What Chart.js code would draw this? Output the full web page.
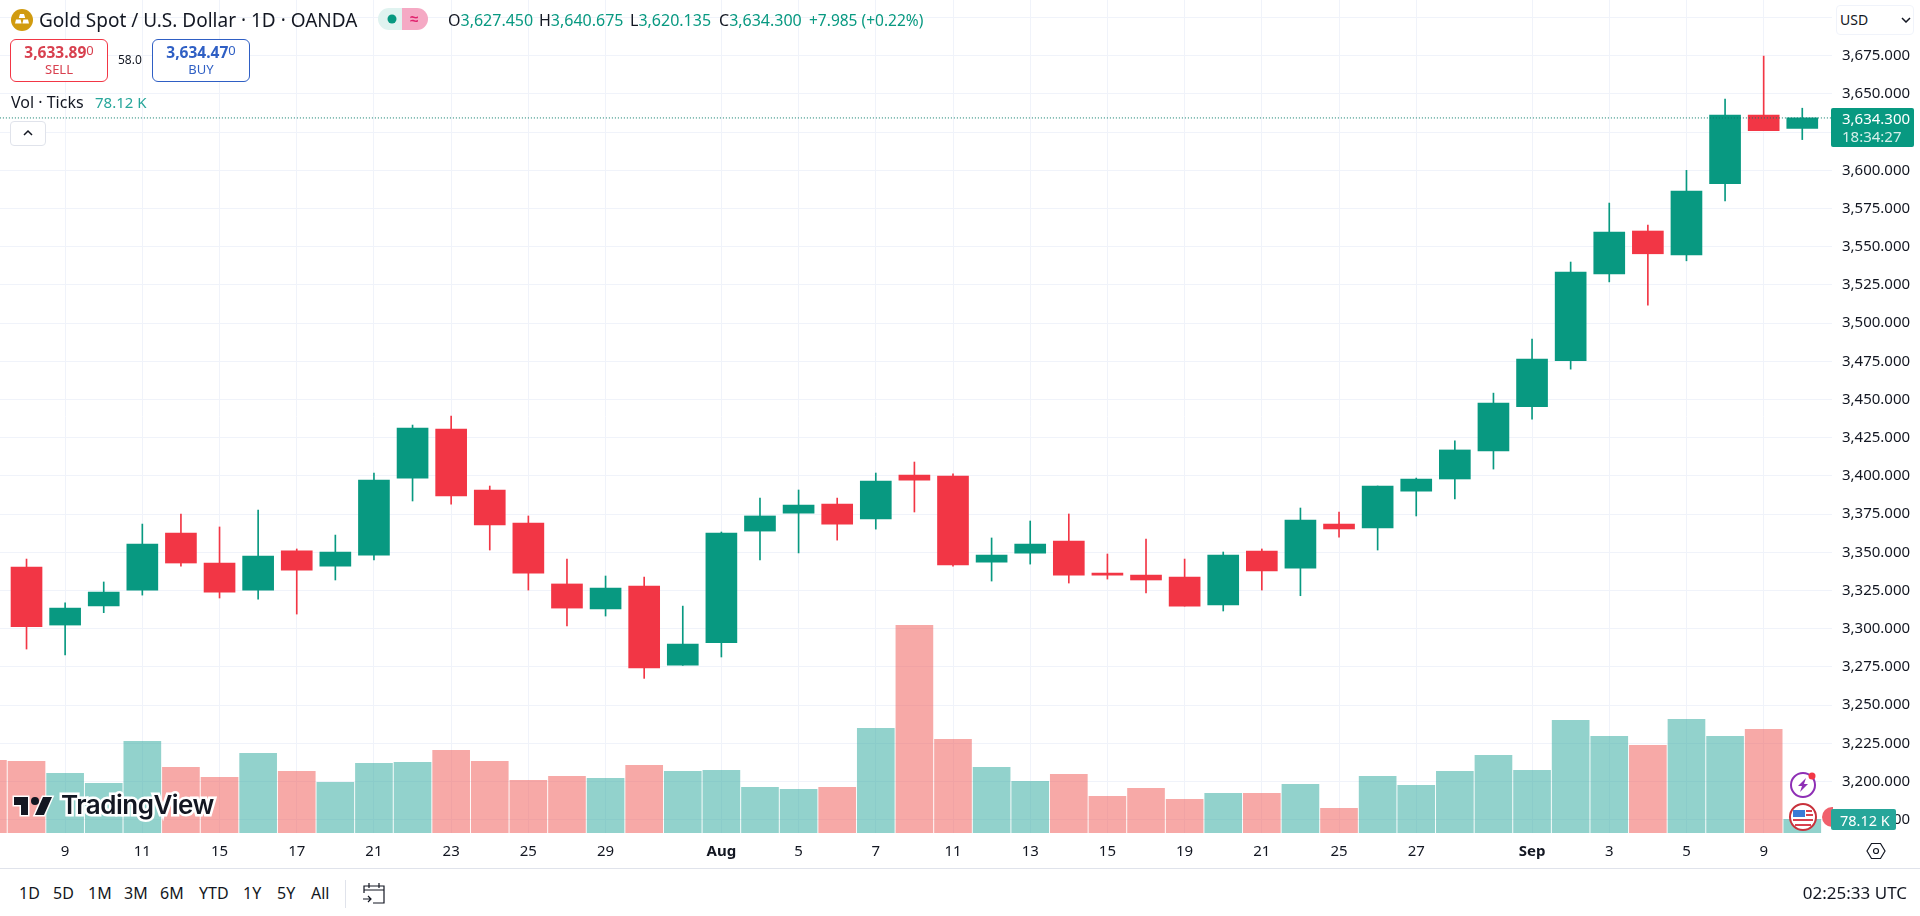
<!DOCTYPE html>
<html>
<head>
<meta charset="utf-8">
<title>Gold Spot / U.S. Dollar</title>
<script src="https://cdn.jsdelivr.net/npm/chart.js@4"></script>
<style>
  html, body { margin: 0; padding: 0; background: #fff; }
  #page { position: relative; width: 1920px; height: 916px; overflow: hidden; font-family: "Noto Sans", sans-serif; color: #131722; }
  #page canvas { position: absolute; left: 0; top: 0; }
  .t { position: absolute; white-space: nowrap; line-height: 20px; height: 20px; }
  .g { color: #089981; }
  .box { position: absolute; box-sizing: border-box; background: #fff; }
  .sep { position: absolute; background: #e0e3eb; }
  .logo { font-family: Inter, sans-serif; font-weight: 600; font-size: 26px; letter-spacing: -0.5px; color: #131722; line-height: 30px; height: 30px;
          -webkit-text-stroke: 5px #fff; paint-order: stroke fill; }
  small { font-size: 13px; position: relative; top: -3px; font-weight: 400; }
</style>
</head>
<body>
<div id="page">
  <canvas id="gold-chart" width="1920" height="868"></canvas>

  <!-- header -->
  <svg style="position:absolute;left:11px;top:9px" width="22" height="22" viewBox="0 0 22 22">
    <circle cx="11" cy="11" r="11" fill="#d19b0f"/>
    <path d="M9 5h4l1.2 4H7.8zM5 10.5h4.6l1 4H4zM12.4 10.5H17l1 4h-6.6z" fill="#fff"/>
  </svg>
  <div class="t" style="left:39px;top:10px;font-size:19px">Gold Spot / U.S. Dollar · 1D · OANDA</div>
  <svg style="position:absolute;left:378px;top:8px" width="50" height="22" viewBox="0 0 50 22">
    <path d="M11 0h13v22H11a11 11 0 0 1 0-22z" fill="#e0f3f0"/>
    <path d="M24 0h15a11 11 0 0 1 0 22H24z" fill="#f5a9c4"/>
    <circle cx="14" cy="11" r="4.5" fill="#089981"/>
    <text x="36" y="16" font-size="15" font-weight="700" fill="#e0246e" text-anchor="middle">≈</text>
  </svg>
  <div class="t" style="left:448px;top:10px;font-size:16px">O<span class="g">3,627.450</span></div>
  <div class="t" style="left:539px;top:10px;font-size:16px">H<span class="g">3,640.675</span></div>
  <div class="t" style="left:630px;top:10px;font-size:16px">L<span class="g">3,620.135</span></div>
  <div class="t" style="left:719px;top:10px;font-size:16px">C<span class="g">3,634.300</span></div>
  <div class="t g" style="left:809px;top:10px;font-size:15.5px">+7.985 (+0.22%)</div>

  <div class="box" style="left:10px;top:39px;width:98px;height:43px;border:1px solid #f23645;border-radius:6px"></div>
  <div class="t" style="left:10px;width:98px;text-align:center;top:42px;font-size:15.5px;font-weight:700;color:#d8404f">3,633.89<small>0</small></div>
  <div class="t" style="left:10px;width:98px;text-align:center;top:59px;font-size:13px;color:#d8404f">SELL</div>
  <div class="t" style="left:118px;top:50px;font-size:12px">58.0</div>
  <div class="box" style="left:152px;top:39px;width:98px;height:43px;border:1px solid #2f5fc4;border-radius:6px"></div>
  <div class="t" style="left:152px;width:98px;text-align:center;top:42px;font-size:15.5px;font-weight:700;color:#2f5fc4">3,634.47<small>0</small></div>
  <div class="t" style="left:152px;width:98px;text-align:center;top:59px;font-size:13px;color:#2f5fc4">BUY</div>
  <div class="t" style="left:11px;top:92px;font-size:16px">Vol · Ticks</div>
  <div class="t" style="left:95px;top:92px;font-size:15px;color:#26a69a">78.12 K</div>
  <div class="box" style="left:10px;top:121px;width:36px;height:25px;border:1px solid #e0e3eb;border-radius:4px"></div>
  <svg style="position:absolute;left:22px;top:128px" width="12" height="10" viewBox="0 0 12 10"><path d="M2 7l4-4 4 4" fill="none" stroke="#131722" stroke-width="1.5"/></svg>

  <!-- price scale widgets -->
  <div class="box" style="left:1836px;top:5px;width:78px;height:30px;border:1px solid #f0f3fa;border-radius:4px"></div>
  <div class="t" style="left:1840px;top:10px;font-size:14px">USD</div>
  <svg style="position:absolute;left:1901px;top:17px" width="10" height="6" viewBox="0 0 10 6"><path d="M1 1l4 4 4-4" fill="none" stroke="#131722" stroke-width="1.5"/></svg>
  <div class="box" style="left:1831px;top:108px;width:83px;height:39px;background:#089981;border-radius:2px"></div>
  <div class="t" style="left:1842px;top:108px;font-size:15px;color:#fff">3,634.300</div>
  <div class="t" style="left:1842px;top:126px;font-size:15px;color:#d5efea">18:34:27</div>

  <!-- event icons -->
  <svg style="position:absolute;left:1788px;top:770px" width="30" height="30" viewBox="0 0 30 30">
    <circle cx="15" cy="15" r="12" fill="#fff" stroke="#8e2fb5" stroke-width="2"/>
    <path d="M18 8l-8 8h4l-2 6 8-8h-4z" fill="#8e2fb5"/>
    <circle cx="24" cy="6" r="3.5" fill="#f23645"/>
  </svg>
  <svg style="position:absolute;left:1788px;top:802px" width="30" height="30" viewBox="0 0 30 30">
    <circle cx="15" cy="15" r="13" fill="#fff" stroke="#c8323c" stroke-width="2"/>
    <path d="M5 17h20v2H5zM7 22h16v2H7z" fill="#d8404f"/>
    <path d="M5 8h12v7H5z" fill="#3a7bd5"/>
    <path d="M18 8h6v2h-6zM18 12h7v2h-7z" fill="#d8404f"/>
  </svg>
  <svg style="position:absolute;left:1821px;top:806px" width="12" height="22" viewBox="0 0 12 22"><circle cx="11" cy="11" r="10" fill="#f0606c"/></svg>
  <div class="box" style="left:1831px;top:809px;width:65px;height:21px;background:#26a69a;border-radius:2px"></div>
  <div class="t" style="left:1840px;top:810px;font-size:14.5px;color:#fff">78.12 K</div>

  <!-- watermark -->
  <svg style="position:absolute;left:12px;top:793px;overflow:visible" width="42" height="26" viewBox="0 0 42 26">
    <path d="M16 4H2v8h7v10h7zM32 22h-9l8-18h9z" fill="#131722" stroke="#fff" stroke-width="3" paint-order="stroke"/>
    <circle cx="23" cy="8" r="4" fill="#131722"/>
  </svg>
  <div class="t logo" style="left:61px;top:790px">TradingView</div>

  <!-- bottom bar -->
  <svg style="position:absolute;left:1866px;top:841px" width="20" height="20" viewBox="0 0 20 20">
    <path d="M5.5 2.5h9L19 10l-4.5 7.5h-9L1 10z" fill="none" stroke="#131722" stroke-width="1.2"/>
    <circle cx="10" cy="10" r="2.5" fill="none" stroke="#131722" stroke-width="1.2"/>
  </svg>
  <div class="sep" style="left:0;top:868px;width:1920px;height:1px"></div>
  <div class="t" style="left:19px;top:883px;font-size:16px">1D</div>
  <div class="t" style="left:53px;top:883px;font-size:16px">5D</div>
  <div class="t" style="left:88px;top:883px;font-size:16px">1M</div>
  <div class="t" style="left:124px;top:883px;font-size:16px">3M</div>
  <div class="t" style="left:160px;top:883px;font-size:16px">6M</div>
  <div class="t" style="left:199px;top:883px;font-size:16px">YTD</div>
  <div class="t" style="left:243px;top:883px;font-size:16px">1Y</div>
  <div class="t" style="left:277px;top:883px;font-size:16px">5Y</div>
  <div class="t" style="left:311px;top:883px;font-size:16px">All</div>
  <div class="sep" style="left:345px;top:880px;width:1px;height:28px"></div>
  <svg style="position:absolute;left:362px;top:880px" width="24" height="25" viewBox="0 0 24 25">
    <path d="M2 13V6h20v17H11M2 10h20M7 3v5M17 3v5M1 19h8M6 16l3 3-3 3" fill="none" stroke="#131722" stroke-width="1.2"/>
  </svg>
  <div class="t" style="right:13px;top:883px;font-size:17px">02:25:33 UTC</div>
</div>

<script>
const volumes = [414, 409, 340, 283, 523, 375, 318, 454, 352, 289, 397, 403, 471, 409, 300, 323, 312, 386, 352, 357, 260, 249, 260, 597, 1184, 534, 375, 295, 335, 209, 255, 192, 226, 226, 278, 141, 323, 272, 352, 443, 357, 642, 551, 500, 648, 551, 591, 78.12]

// the first session is only visible through its volume bar
const opens = [null, 3340.4, 3302.4, 3314.9, 3325.3, 3362.6, 3343.0, 3325.3, 3350.9, 3341.0, 3348.2, 3398.6, 3430.7, 3390.8, 3369.2, 3329.3, 3312.9, 3327.9, 3276.2, 3290.8, 3363.9, 3375.7, 3381.6, 3371.8, 3400.6, 3399.9, 3343.6, 3349.5, 3357.4, 3336.4, 3335.1, 3333.8, 3315.5, 3350.8, 3339.7, 3368.5, 3365.9, 3390.1, 3398.0, 3416.3, 3445.3, 3475.4, 3532.3, 3560.3, 3544.6, 3591.3, 3636.2, 3627.45]
const highs = [null, 3345.6, 3317.0, 3330.6, 3368.5, 3375.0, 3366.6, 3377.7, 3352.2, 3361.3, 3401.9, 3433.3, 3439.2, 3393.4, 3373.8, 3345.6, 3334.5, 3333.8, 3314.8, 3363.3, 3385.5, 3390.8, 3385.5, 3401.9, 3409.1, 3401.3, 3359.4, 3370.5, 3375.1, 3348.9, 3358.7, 3345.6, 3350.2, 3352.2, 3379.0, 3376.4, 3393.4, 3398.6, 3422.9, 3454.2, 3489.6, 3540.0, 3578.6, 3564.2, 3600.0, 3646.7, 3674.8, 3640.675]
const lows = [null, 3286.7, 3282.8, 3310.5, 3322.0, 3341.0, 3320.1, 3319.4, 3309.6, 3331.9, 3345.0, 3383.6, 3381.6, 3351.5, 3325.3, 3301.8, 3308.3, 3267.5, 3276.0, 3281.5, 3345.0, 3349.6, 3358.0, 3365.2, 3376.4, 3341.0, 3331.2, 3342.3, 3329.9, 3332.5, 3323.4, 3314.8, 3311.6, 3325.3, 3321.6, 3360.0, 3351.5, 3373.8, 3384.9, 3404.5, 3437.2, 3469.9, 3527.0, 3511.8, 3540.8, 3580.0, 3626.0, 3620.135]
const closes = [null, 3301.3, 3313.5, 3324.0, 3355.4, 3343.0, 3324.0, 3347.6, 3338.4, 3350.2, 3397.3, 3431.4, 3386.9, 3367.9, 3336.4, 3313.5, 3326.6, 3274.3, 3290.0, 3362.6, 3373.8, 3381.0, 3368.5, 3396.7, 3397.3, 3341.7, 3348.2, 3355.4, 3335.1, 3335.1, 3331.9, 3314.8, 3348.2, 3337.8, 3371.1, 3365.3, 3393.4, 3398.0, 3417.0, 3447.7, 3476.5, 3533.4, 3559.6, 3545.4, 3586.5, 3636.2, 3626.0, 3634.3]

const dateTicks = [2, 4, 6, 8, 10, 12, 14, 16, 19, 21, 23, 25, 27, 29, 31, 33, 35, 37, 40, 42, 44, 46]
const dateLabels = ['9', '11', '15', '17', '21', '23', '25', '29', 'Aug', '5', '7', '11', '13', '15', '19', '21', '25', '27', 'Sep', '3', '5', '9']
const priceTicks = [3175, 3200, 3225, 3250, 3275, 3300, 3325, 3350, 3375, 3400, 3425, 3450, 3475, 3500, 3525, 3550, 3575, 3600, 3625, 3650, 3675, 3700]
const lastPrice = 3634.3

const UP = '#089981'
const DOWN = '#F23645'
const GRID = '#f0f3fa'

const isUp = (i) => closes[i] > opens[i]

const candles = []
const wicks = []
for (let i = 0; i < opens.length; i++) {
    if (opens[i] === null) continue
    candles.push({ x: i, y: [opens[i], closes[i]], up: isUp(i) })
    wicks.push({ x: i, y: [lows[i], highs[i]], up: isUp(i) })
}
const volumeBars = volumes.map((v, i) => ({ x: i, y: v }))

const pointColor = (c) => (c.raw && c.raw.up ? UP : DOWN)

new Chart(document.getElementById('gold-chart'), {
    type: 'bar',
    data: {
        datasets: [{
            label: 'Vol',
            yAxisID: 'yVol',
            data: volumeBars,
            grouped: false,
            barThickness: 37,
            order: 3,
            backgroundColor: (c) => (isUp(c.dataIndex) ? 'rgba(38,166,154,0.5)' : 'rgba(239,83,80,0.5)')
        }, {
            label: 'Wick',
            yAxisID: 'y',
            data: wicks,
            grouped: false,
            barThickness: 1,
            order: 2,
            backgroundColor: pointColor
        }, {
            label: 'Body',
            yAxisID: 'y',
            data: candles,
            grouped: false,
            barThickness: 31,
            order: 1,
            backgroundColor: pointColor
        }, {
            type: 'line',
            label: 'Last',
            yAxisID: 'y',
            data: [{ x: 0.31, y: lastPrice }, { x: 48, y: lastPrice }],
            order: 0,
            borderColor: '#0a7a68',
            borderWidth: 1,
            borderDash: [1, 2],
            pointRadius: 0
        }]
    },
    options: {
        responsive: false,
        animation: false,
        layout: { padding: 0, autoPadding: false },
        plugins: { legend: { display: false }, tooltip: { enabled: false } },
        scales: {
            x: {
                type: 'linear',
                offset: false,
                min: 0.313,
                max: 47.77,
                grid: { color: GRID, drawTicks: false, offset: false },
                border: { display: false },
                afterBuildTicks: (scale) => { scale.ticks = dateTicks.map(v => ({ value: v })) },
                afterFit: (scale) => {
                    scale.height = 35
                    scale.paddingLeft = 0
                    scale.paddingRight = 0
                },
                ticks: {
                    autoSkip: false,
                    maxRotation: 0,
                    padding: 10,
                    color: '#131722',
                    font: (c) => {
                        const lbl = c.tick && c.tick.label
                        return { family: '"Noto Sans"', size: 15, weight: (lbl === 'Aug' || lbl === 'Sep') ? '700' : '400' }
                    },
                    callback: (v) => dateLabels[dateTicks.indexOf(v)]
                }
            },
            y: {
                position: 'right',
                min: 3166.3,
                max: 3711.5,
                grid: { color: GRID, drawTicks: false },
                border: { display: false },
                afterBuildTicks: (scale) => { scale.ticks = priceTicks.map(v => ({ value: v })) },
                afterFit: (scale) => {
                    scale.width = 88
                    scale.paddingTop = 0
                    scale.paddingBottom = 0
                },
                ticks: {
                    padding: 10,
                    color: '#131722',
                    font: { family: '"Noto Sans"', size: 15 },
                    callback: (v) => (v === 3700 ? '' : v.toLocaleString('en-US', { minimumFractionDigits: 3 }))
                }
            },
            yVol: {
                display: false,
                min: 0,
                max: 4748
            }
        }
    }
})
</script>
</body>
</html>
